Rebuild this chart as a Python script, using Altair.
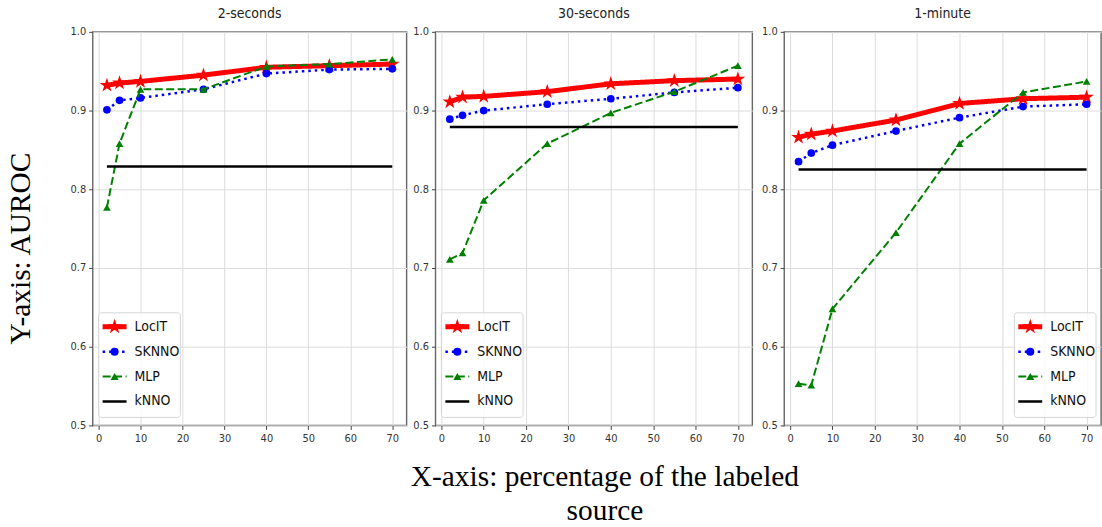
import altair as alt
import pandas as pd

# Percentage of labeled source data used for training
x_pct = [2, 5, 10, 25, 40, 55, 70]
panels = ["2-seconds", "30-seconds", "1-minute"]
methods = ["LocIT", "SKNNO", "MLP", "kNNO"]

# AUROC per method, one list per window length
locit_2s = [0.932, 0.935, 0.937, 0.945, 0.955, 0.957, 0.959]
sknno_2s = [0.901, 0.913, 0.916, 0.927, 0.947, 0.952, 0.953]
mlp_2s = [0.777, 0.858, 0.927, 0.927, 0.956, 0.959, 0.965]
knno_2s = 0.829

locit_30s = [0.911, 0.917, 0.918, 0.924, 0.934, 0.938, 0.940]
sknno_30s = [0.889, 0.894, 0.900, 0.908, 0.915, 0.923, 0.929]
mlp_30s = [0.711, 0.719, 0.786, 0.858, 0.897, 0.924, 0.957]
knno_30s = 0.879

locit_1m = [0.866, 0.870, 0.874, 0.888, 0.909, 0.915, 0.917]
sknno_1m = [0.835, 0.846, 0.856, 0.874, 0.891, 0.905, 0.908]
mlp_1m = [0.553, 0.551, 0.648, 0.745, 0.858, 0.923, 0.937]
knno_1m = 0.825

series = {
    "2-seconds": (locit_2s, sknno_2s, mlp_2s, knno_2s),
    "30-seconds": (locit_30s, sknno_30s, mlp_30s, knno_30s),
    "1-minute": (locit_1m, sknno_1m, mlp_1m, knno_1m),
}

rows = []
for p, (loc, skn, mlp, kn) in series.items():
    for m, vals in zip(methods[:3], (loc, skn, mlp)):
        for xv, yv in zip(x_pct, vals):
            rows.append({"panel": p, "method": m, "x": xv, "y": yv})
    # kNNO is a flat baseline across the labeled range
    for xv in (x_pct[0], x_pct[-1]):
        rows.append({"panel": p, "method": "kNNO", "x": xv, "y": kn})
df = pd.DataFrame(rows)

STAR = ("M0,-1L0.2245,-0.309L0.951,-0.309L0.363,0.118L0.588,0.809L0,0.382"
        "L-0.588,0.809L-0.363,0.118L-0.951,-0.309L-0.2245,-0.309Z")

styles = {
    "LocIT": dict(color="#ff0000", width=5, dash=[1, 0], shape=STAR, size=240),
    "SKNNO": dict(color="#0000ff", width=2.5, dash=[2.5, 4], shape="circle", size=60),
    "MLP": dict(color="#008000", width=2, dash=[8, 3.5], shape="triangle-up", size=60),
    "kNNO": dict(color="#000000", width=2.5, dash=[1, 0], shape=None, size=0),
}

TICK_FONT = "DejaVu Sans Condensed, Liberation Sans Narrow, DejaVu Sans"
SERIF = "Liberation Serif"
H = 395


def panel(name, width, legend_left, first):
    base = alt.Chart(df).transform_filter(alt.datum.panel == name)
    xenc = alt.X(
        "x:Q",
        scale=alt.Scale(domain=[-1.4, 73.4], nice=False, zero=False),
        axis=alt.Axis(values=list(range(0, 80, 10)), title=None),
    )
    yaxis = dict(values=[0.5, 0.6, 0.7, 0.8, 0.9, 1.0], format=".1f")
    if first:
        yaxis.update(
            title="Y-axis: AUROC", titleFont=SERIF, titleFontSize=29.5,
            titleFontWeight="normal", titleColor="black", titlePadding=35,
            titleY=217,
        )
    else:
        yaxis.update(title=None)
    yenc = alt.Y("y:Q", scale=alt.Scale(domain=[0.5, 1.0], nice=False, zero=False),
                 axis=alt.Axis(**yaxis))

    layers = []
    for m in methods:
        s = styles[m]
        sub = base.transform_filter(alt.datum.method == m)
        layers.append(
            sub.mark_line(color=s["color"], strokeWidth=s["width"],
                          strokeDash=s["dash"]).encode(x=xenc, y=yenc)
        )
        if s["shape"]:
            layers.append(
                sub.mark_point(shape=s["shape"], filled=True, color=s["color"],
                               size=s["size"], opacity=1).encode(x=xenc, y=yenc)
            )

    # legend box and entries
    lx = legend_left
    ly = 282
    layers.append(
        alt.Chart(pd.DataFrame({"k": [0]})).mark_rect(
            fill="white", stroke="#d0d0d0", strokeWidth=1, cornerRadius=3, opacity=0.85
        ).encode(x=alt.value(lx), x2=alt.value(lx + 82), y=alt.value(ly), y2=alt.value(ly + 105))
    )
    for i, m in enumerate(methods):
        s = styles[m]
        yy = ly + 14 + i * 25
        one = alt.Chart(pd.DataFrame({"label": [m]}))
        layers.append(
            one.mark_rule(color=s["color"], strokeWidth=s["width"], strokeDash=s["dash"]).encode(
                x=alt.value(lx + 4), x2=alt.value(lx + 28), y=alt.value(yy)
            )
        )
        if s["shape"]:
            layers.append(
                one.mark_point(shape=s["shape"], filled=True, color=s["color"],
                               size=s["size"] * 1.1, opacity=1).encode(
                    x=alt.value(lx + 16), y=alt.value(yy)
                )
            )
        layers.append(
            one.mark_text(align="left", baseline="middle", font=TICK_FONT,
                          fontSize=14, color="#111").encode(
                x=alt.value(lx + 36), y=alt.value(yy), text="label:N"
            )
        )

    return alt.layer(*layers).properties(
        width=width, height=H,
        title=alt.TitleParams(name, font=TICK_FONT, fontSize=14,
                              fontWeight="normal", color="#222", offset=5),
    )


chart = alt.hconcat(
    panel("2-seconds", 315, 6, True),
    alt.hconcat(
        panel("30-seconds", 318, 6, False),
        panel("1-minute", 318, 231, False),
        spacing=7,
    ),
    spacing=4,
).properties(
    title=alt.TitleParams(
        ["X-axis: percentage of the labeled", "source"],
        orient="bottom", anchor="middle", font=SERIF, fontSize=29.5,
        fontWeight="normal", color="black", lineHeight=34, offset=19, dx=52,
    ),
    padding={"left": 4, "top": 5, "right": 0, "bottom": 0},
).configure_view(
    stroke="#666666", strokeWidth=1.4
).configure_axis(
    domain=False, grid=True, gridColor="#dddddd", gridWidth=1,
    tickColor="#444444", tickSize=4, labelFont=TICK_FONT, labelFontSize=11,
    labelColor="#333333", labelPadding=3,
)

chart.save("out.html", embed_options={"renderer": "svg", "actions": False})
